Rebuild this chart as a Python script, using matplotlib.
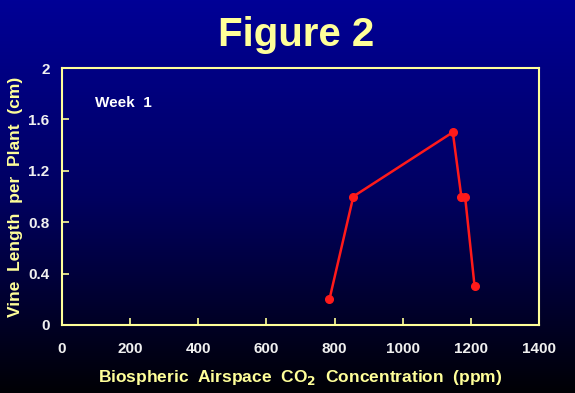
import numpy as np
import matplotlib
matplotlib.use("Agg")
import matplotlib.pyplot as plt
from matplotlib.colors import LinearSegmentedColormap

co2_ppm = [785, 855, 1147, 1172, 1183, 1211]
vine_length = [0.20, 1.00, 1.50, 1.00, 1.00, 0.30]
x_ticks = [0, 200, 400, 600, 800, 1000, 1200, 1400]
y_ticks = [0, 0.4, 0.8, 1.2, 1.6, 2]
y_tick_labels = ["0", "0.4", "0.8", "1.2", "1.6", "2"]

plt.rcParams["font.family"] = ["Liberation Sans", "DejaVu Sans"]
yellow = "#FFFF99"

fig = plt.figure(figsize=(5.75, 3.93), dpi=100)

# background gradient: blue at top fading to black at bottom
bg = fig.add_axes([0, 0, 1, 1], zorder=-10)
grad = np.linspace(1, 0, 256).reshape(-1, 1)
cmap = LinearSegmentedColormap.from_list("bg", ["#000005", "#000060", "#000096"])
bg.imshow(grad, aspect="auto", cmap=cmap, extent=[0, 1, 0, 1])
bg.axis("off")

ax = fig.add_axes([62 / 575, (393 - 325) / 393, (539 - 62) / 575, (325 - 68) / 393])
ax.patch.set_alpha(0)

ax.plot(co2_ppm, vine_length, color="#FF1A1A", lw=1.8, marker="o", ms=5.5)

ax.set_xlim(0, 1400)
ax.set_ylim(0, 2)
ax.set_xticks(x_ticks)
ax.set_yticks(y_ticks)
ax.set_yticklabels(y_tick_labels)
for s in ax.spines.values():
    s.set_color(yellow)
    s.set_linewidth(1.5)
ax.tick_params(direction="in", color=yellow, width=1.2, length=5,
               labelcolor="#F0F0F0", labelsize=11)
ax.tick_params(axis="x", pad=12)
ax.tick_params(axis="y", pad=9)
for lab in ax.get_xticklabels() + ax.get_yticklabels():
    lab.set_fontweight("bold")

ax.set_xlabel("Biospheric  Airspace  CO$_\\mathbf{2}$  Concentration  (ppm)",
              color=yellow, fontsize=12.5, fontweight="bold", labelpad=9)
ax.set_ylabel("Vine  Length  per  Plant  (cm)", color=yellow,
              fontsize=12.5, fontweight="bold", labelpad=4)
ax.text(0.07, 0.85, "Week  1", transform=ax.transAxes, color="white",
        fontsize=11, fontweight="bold")

fig.text(0.515, 0.91, "Figure 2", ha="center", va="center", color=yellow,
         fontsize=29, fontweight="bold")

fig.savefig("out.png", dpi=100)
